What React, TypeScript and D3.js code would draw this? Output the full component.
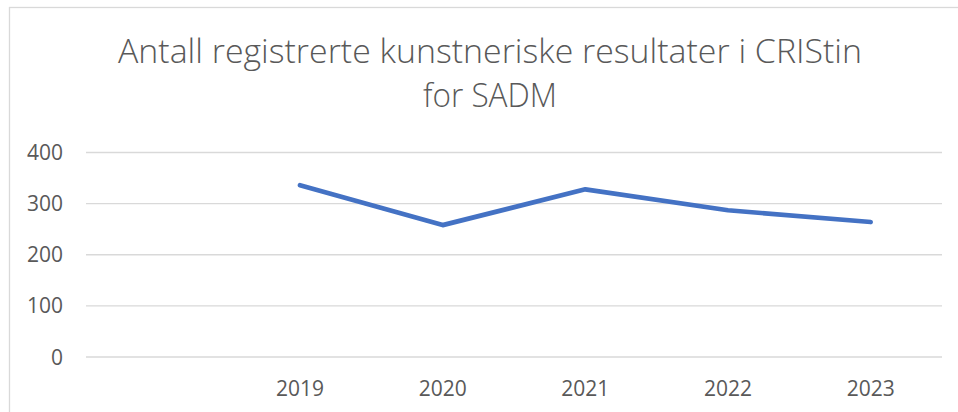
import React from 'react';
import * as d3 from 'd3';

const categories = ['', '2019', '2020', '2021', '2022', '2023'];
const values: (number | null)[] = [null, 336, 258, 328, 287, 264];
const yTicks = [0, 100, 200, 300, 400];
const titleLines = ['Antall registrerte kunstneriske resultater i CRIStin', 'for SADM'];

const W = 958;
const H = 412;
const plot = { left: 86, right: 942, top: 152.5, bottom: 357 };
const textColor = '#595959';
const font = '"Open Sans", sans-serif';

export default function App() {
  const x = d3.scaleBand<string>().domain(categories).range([plot.left, plot.right]).padding(0);
  const y = d3.scaleLinear().domain([0, 400]).range([plot.bottom, plot.top]);

  const pts = categories
    .map((c, i) => ({ c, v: values[i] }))
    .filter(d => d.v !== null) as { c: string; v: number }[];

  const line = d3.line<{ c: string; v: number }>()
    .x(d => (x(d.c) ?? 0) + x.bandwidth() / 2)
    .y(d => y(d.v));

  return (
    <svg width={W} height={H} style={{ position: 'absolute', left: 0, top: 0, background: '#fff' }}>
      {/* chart frame */}
      <rect x={9.5} y={7.5} width={W + 20} height={H + 20} fill="#fff" stroke="#d9d9d9" strokeWidth={1.3} />

      {/* title */}
      <text x={490} y={63} textAnchor="middle" fontFamily={font} fontSize={33} fontWeight={300} fill={textColor}
        textLength={744} lengthAdjust="spacingAndGlyphs">{titleLines[0]}</text>
      <text x={490} y={107} textAnchor="middle" fontFamily={font} fontSize={33} fontWeight={300} fill={textColor}
        textLength={134} lengthAdjust="spacingAndGlyphs">{titleLines[1]}</text>

      {/* grid + y labels */}
      {yTicks.map(t => (
        <g key={t}>
          <line x1={plot.left} x2={plot.right} y1={y(t)} y2={y(t)} stroke="#d9d9d9" strokeWidth={1.3} />
          <text x={63} y={y(t) + 7.5} textAnchor="end" fontFamily={font} fontSize={21} fill={textColor}>{t}</text>
        </g>
      ))}

      {/* x labels */}
      {categories.map(c => (
        <text key={c || 'blank'} x={(x(c) ?? 0) + x.bandwidth() / 2} y={396} textAnchor="middle"
          fontFamily={font} fontSize={21} fill={textColor}>{c}</text>
      ))}

      {/* series */}
      <path d={line(pts) ?? ''} fill="none" stroke="#4472C4" strokeWidth={4.7}
        strokeLinecap="round" strokeLinejoin="round" />
    </svg>
  );
}
